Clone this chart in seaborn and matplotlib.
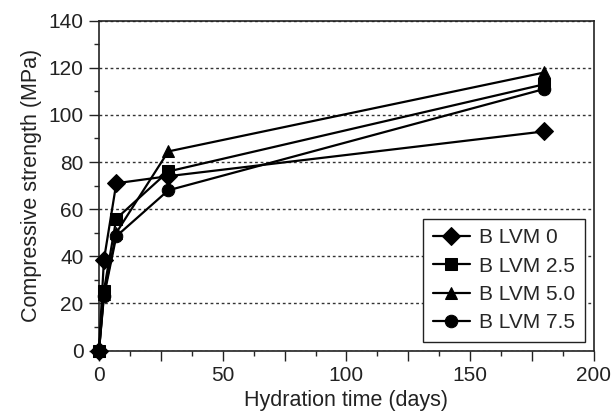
import numpy as np
import pandas as pd
import seaborn as sns
import matplotlib.pyplot as plt
from matplotlib.ticker import MultipleLocator, FuncFormatter

""" Data read off the figure """
days = [0, 2, 7, 28, 180]
lvm_0 = [0, 38.5, 71, 74, 93]
lvm_25 = [0, 25.5, 56, 76, 113]
lvm_50 = [0, 24, 50, 84.5, 118]
lvm_75 = [0, 23, 48.5, 68, 111]
labels = ["B LVM 0", "B LVM 2.5", "B LVM 5.0", "B LVM 7.5"]
markers = ["D", "s", "^", "o"]

data = pd.DataFrame({"days": days * 4,
                     "strength": lvm_0 + lvm_25 + lvm_50 + lvm_75,
                     "mix": np.repeat(labels, len(days))})

sns.set_style("white")
plt.rcParams['font.family'] = ['Liberation Sans', 'DejaVu Sans']

f = plt.figure(figsize=(6.11, 4.12), dpi=100)
ax = f.add_axes([0.162, 0.149, 0.810, 0.801])

for lab, mk in zip(labels, markers):
    sub = data[data["mix"] == lab]
    sns.lineplot(x="days", y="strength", data=sub, ax=ax, color="black",
                 marker=mk, markersize=9, markeredgecolor="black",
                 linewidth=1.6, label=lab, sort=False, clip_on=False, zorder=3)

ax.set_xlim(0, 200)
ax.set_ylim(0, 140)
# long ticks every 25 days, labels only every 50
ax.xaxis.set_major_locator(MultipleLocator(25))
ax.xaxis.set_major_formatter(FuncFormatter(lambda v, p: "%d" % v if v % 50 == 0 else ""))
ax.xaxis.set_minor_locator(MultipleLocator(12.5))
ax.yaxis.set_major_locator(MultipleLocator(20))
ax.yaxis.set_minor_locator(MultipleLocator(10))
ax.tick_params(axis="x", which="major", direction="out", length=7, width=1,
               labelsize=15, pad=4, bottom=True, colors="#222222")
ax.tick_params(axis="x", which="minor", direction="out", length=3.5, width=1, bottom=True)
ax.tick_params(axis="y", which="major", direction="out", length=7, width=1,
               labelsize=15, pad=4, left=True, colors="#222222")
ax.tick_params(axis="y", which="minor", direction="out", length=3.5, width=1, left=True)
for sp in ax.spines.values():
    sp.set_color("#222222")
    sp.set_linewidth(1.2)

ax.yaxis.grid(True, which="major", linestyle=(0, (2, 2)), color="#333333", linewidth=1)
ax.xaxis.grid(False)

ax.set_xlabel("Hydration time (days)", fontsize=15.5, labelpad=4, color="#222222")
ax.set_ylabel("Compressive strength (MPa)", fontsize=15.5, labelpad=5, color="#222222")

leg = ax.legend(loc="lower right", fontsize=15, frameon=True, fancybox=False,
                handlelength=1.8, handletextpad=0.45, borderpad=0.45, labelspacing=0.45,
                borderaxespad=0, bbox_to_anchor=(0.982, 0.027))
leg.get_frame().set_edgecolor("#222222")
leg.get_frame().set_linewidth(1)
leg.get_frame().set_alpha(1)

plt.savefig("out.png", dpi=100)
